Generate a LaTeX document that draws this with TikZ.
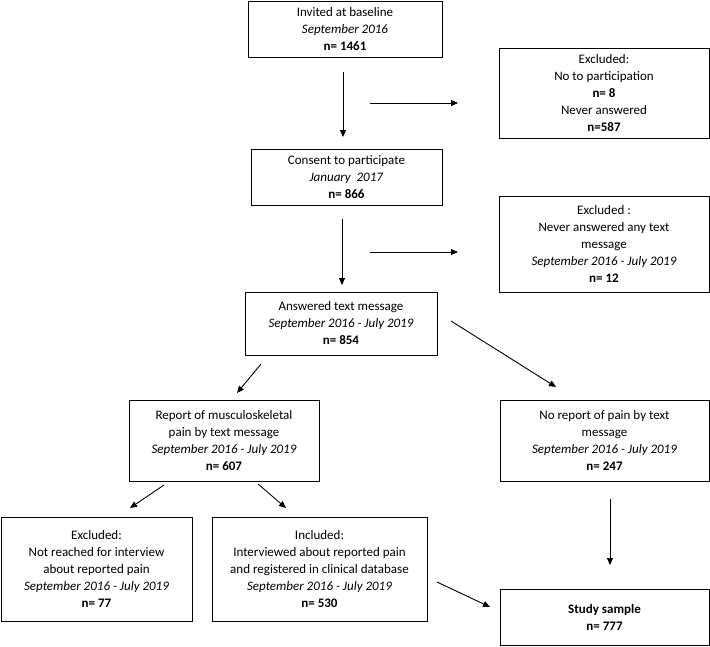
\documentclass[tikz,border=0pt]{standalone}
\usepackage{fontspec}
\setmainfont{Carlito}
\usetikzlibrary{arrows.meta}
\begin{document}
\begin{tikzpicture}[x=1pt,y=-1pt,
 box/.style={draw,line width=1pt,align=center,inner sep=0pt,font=\fontsize{13}{17}\selectfont},
 arr/.style={line width=0.9pt,-{Triangle[length=7pt,width=6pt]}}]
\useasboundingbox (0,0) rectangle (710,646);
\newcommand{\bx}[6]{\node[box,minimum width=#4-#2,minimum height=#5-#3] (#1) at ({(#2+#4)/2},{(#3+#5)/2}) {#6};}
\bx{inv}{248}{1}{442}{57}{Invited at baseline\\\textit{September 2016}\\\textbf{n= 1461}}
\bx{ex1}{499}{48}{709}{138}{Excluded:\\No to participation\\\textbf{n= 8}\\Never answered\\\textbf{n=587}}
\bx{con}{251}{149}{442}{205}{Consent to participate\\\textit{January\ \ 2017}\\\textbf{n= 866}}
\bx{ex2}{499}{196}{709}{292}{Excluded :\\Never answered any text\\message\\\textit{September 2016 - July 2019}\\\textbf{n= 12}}
\bx{ans}{245}{292}{437}{355}{Answered text message\\\textit{September 2016 - July 2019}\\\textbf{n= 854}}
\bx{rep}{129}{400}{319}{481}{Report of musculoskeletal\\pain by text message\\\textit{September 2016 - July 2019}\\\textbf{n= 607}}
\bx{nor}{500}{400}{709}{481}{No report of pain by text\\message\\\textit{September 2016 - July 2019}\\\textbf{n= 247}}
\bx{ex3}{1}{517}{192}{621}{Excluded:\\Not reached for interview\\about reported pain\\\textit{September 2016 - July 2019}\\\textbf{n= 77}}
\bx{inc}{212}{517}{427}{621}{Included:\\Interviewed about reported pain\\and registered in clinical database\\\textit{September 2016 - July 2019}\\\textbf{n= 530}}
\bx{stu}{500}{589}{709}{645}{\textbf{Study sample}\\\textbf{n= 777}}
\coordinate (a1) at (343,72); \coordinate (a2) at (343,137);
\coordinate (b1) at (370,103); \coordinate (b2) at (458,103);
\coordinate (c1) at (342,219); \coordinate (c2) at (342,285);
\coordinate (d1) at (370,252); \coordinate (d2) at (458,252);
\coordinate (e1) at (261,364); \coordinate (e2) at (237,393);
\coordinate (f1) at (451,321); \coordinate (f2) at (556,387);
\coordinate (g1) at (164,485); \coordinate (g2) at (130,508);
\coordinate (h1) at (258,484); \coordinate (h2) at (286,508);
\coordinate (i1) at (437,582); \coordinate (i2) at (490,607);
\coordinate (j1) at (610,499); \coordinate (j2) at (610,565);
\foreach \p in {a,b,c,d,e,f,g,h,i,j} \draw[arr] (\p1) -- (\p2);
\end{tikzpicture}
\end{document}
